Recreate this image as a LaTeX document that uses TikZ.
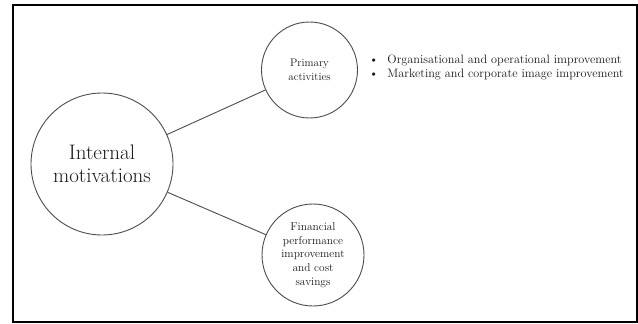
\documentclass[tikz,border=0pt]{standalone}
\usetikzlibrary{calc}
\begin{document}
\begin{tikzpicture}[x=1pt,y=-1pt,
  bubble/.style={circle,draw=black!70,line width=0.9pt,inner sep=0pt,align=center,text=black!90},
  link/.style={draw=black!70,line width=0.9pt},
  frame/.style={draw=black,line width=2pt}]
\useasboundingbox (0,0) rectangle (638,324);
\draw[frame] (13,5) rectangle (637,322);

\node[bubble,minimum size=142pt,font=\fontsize{21}{23.5}\selectfont] (core) at (102,164) {Internal\\motivations};
\node[bubble,minimum size=96pt,font=\fontsize{11}{14.5}\selectfont] (primary) at (309.5,70) {Primary\\activities};
\node[bubble,minimum size=102pt,font=\fontsize{11.4}{13.7}\selectfont] (finance) at (313,255) {Financial\\performance\\improvement\\and cost\\savings};

\draw[link] (core) -- (primary);
\draw[link] (core) -- (finance);

\node[anchor=west,inner sep=0pt,text=black!90,font=\fontsize{12.2}{14}\selectfont] (items) at (369,67.5)
  {\begin{tabular}{@{}l@{\hspace{9pt}}l@{}}
   \textbullet & Organisational and operational improvement\\
   \textbullet & Marketing and corporate image improvement
   \end{tabular}};
\end{tikzpicture}
\end{document}
